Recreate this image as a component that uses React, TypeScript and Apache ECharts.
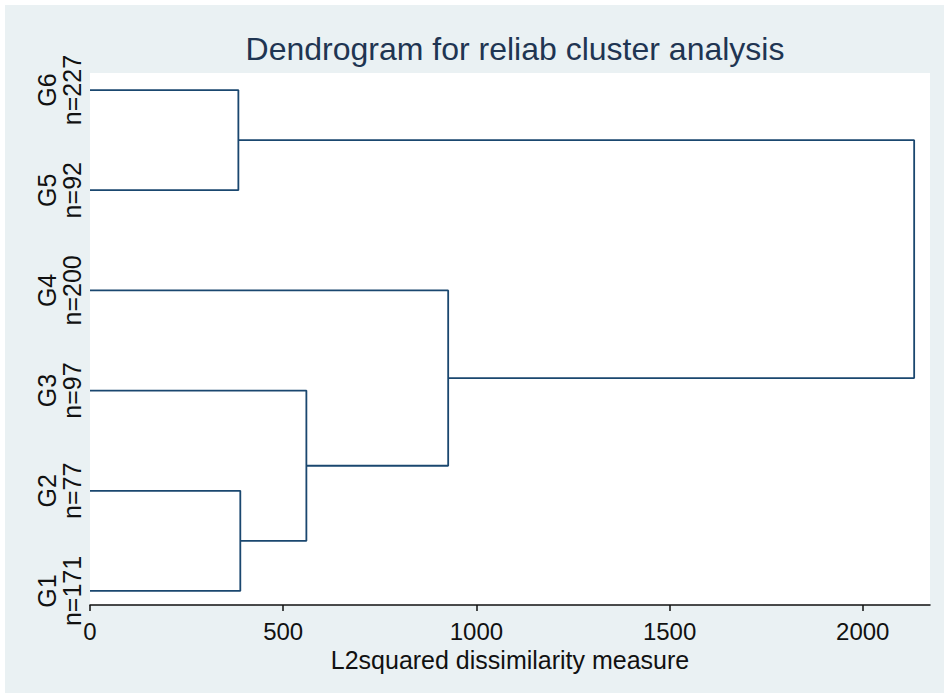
import React, { useEffect, useRef } from "react";
import * as echarts from "echarts";

const leafNames = ["G1", "G2", "G3", "G4", "G5", "G6"];
const leafSizes = [171, 77, 97, 200, 92, 227];
// merges: [childA, childB, height]; ids 0-5 are leaves, 6+ are merged clusters in order
const mergeA = [0, 4, 6, 8, 7];
const mergeB = [1, 5, 2, 3, 9];
const mergeHeights = [389, 384, 560, 927, 2133];
const xTicks = [0, 500, 1000, 1500, 2000];

const TITLE = "Dendrogram for reliab cluster analysis";
const X_NAME = "L2squared dissimilarity measure";

function buildLinks() {
  const pos: number[] = leafNames.map((_, i) => i + 1);
  const hgt: number[] = leafNames.map(() => 0);
  const links: number[][][] = [];
  mergeA.forEach((a, k) => {
    const b = mergeB[k];
    const h = mergeHeights[k];
    links.push([
      [hgt[a], pos[a]],
      [h, pos[a]],
      [h, pos[b]],
      [hgt[b], pos[b]],
    ]);
    pos.push((pos[a] + pos[b]) / 2);
    hgt.push(h);
  });
  return links;
}

export default function App() {
  const ref = useRef<HTMLDivElement>(null);
  useEffect(() => {
    document.body.style.margin = "0";
    const chart = echarts.init(ref.current!, null, { renderer: "svg" });
    const links = buildLinks();
    const font = "'Liberation Sans', Arial, sans-serif";
    chart.setOption({
      animation: false,
      backgroundColor: "#ffffff",
      graphic: [
        {
          type: "rect",
          z: -10,
          silent: true,
          shape: { x: 5, y: 5, width: 939, height: 688 },
          style: { fill: "#eaf1f3" },
        },
      ],
      title: {
        text: TITLE,
        left: 510,
        top: 28,
        textAlign: "center",
        textStyle: { fontFamily: font, fontSize: 32, fontWeight: "normal", color: "#1f3552" },
      },
      grid: {
        left: 90,
        right: 14,
        top: 73,
        bottom: 88,
        show: true,
        backgroundColor: "#ffffff",
        borderWidth: 0,
        containLabel: false,
      },
      xAxis: {
        type: "value",
        min: 0,
        max: 2174,
        interval: 500,
        name: X_NAME,
        nameLocation: "middle",
        nameGap: 37,
        nameTextStyle: { fontFamily: font, fontSize: 25, color: "#111" },
        axisLine: { show: true, lineStyle: { color: "#111", width: 1.5 } },
        axisTick: {
          show: true,
          length: 6,
          customValues: xTicks,
          lineStyle: { color: "#111", width: 1.5 },
        },
        axisLabel: {
          fontFamily: font,
          fontSize: 24,
          color: "#111",
          margin: 14,
          customValues: xTicks,
          formatter: (v: number) => String(v),
        },
        splitLine: { show: false },
      },
      yAxis: {
        type: "value",
        min: 0.86,
        max: 6.17,
        axisLine: { show: false },
        axisTick: { show: false },
        splitLine: { show: false },
        axisLabel: {
          customValues: leafNames.map((_, i) => i + 1),
          rotate: 90,
          margin: 5.5,
          fontFamily: font,
          fontSize: 25,
          lineHeight: 25,
          color: "#111",
          formatter: (v: number) => {
            const i = Math.round(v) - 1;
            return leafNames[i] + "\nn=" + leafSizes[i];
          },
        },
      },
      series: links.map((pts) => ({
        type: "line",
        data: pts,
        symbol: "none",
        silent: true,
        lineStyle: { color: "#1a476f", width: 1.8 },
      })),
    });
    return () => chart.dispose();
  }, []);
  return <div ref={ref} style={{ width: 944, height: 693 }} />;
}
